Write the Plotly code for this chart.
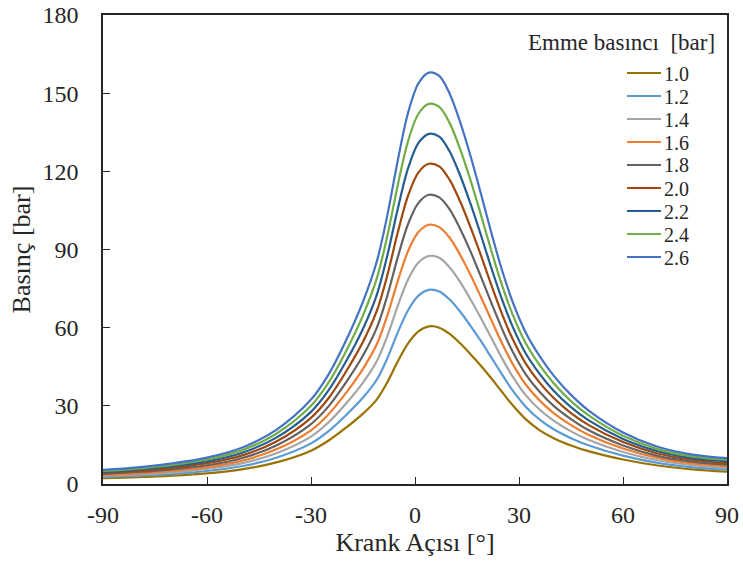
import plotly.graph_objects as go

crank_angle = [-90, -80, -70, -60, -50, -40, -30, -25, -20, -15, -11, -8, -5, -2, 1, 4, 7,
               10, 13, 16, 19, 22, 25, 28, 32, 36, 40, 45, 50, 60, 70, 80, 90]

intake_labels = ["1.0", "1.2", "1.4", "1.6", "1.8", "2.0", "2.2", "2.4", "2.6"]

p_10 = [2.2, 2.6, 3.2, 4.1, 5.6, 8.3, 12.8, 16.6, 21.5, 27.0, 32.5, 39.0, 47.0, 54.0, 58.6, 60.5, 60.0,
        57.6, 54.0, 49.8, 45.4, 40.6, 35.5, 30.5, 24.8, 20.6, 17.6, 14.8, 12.6, 9.4, 7.1, 5.6, 4.7]
p_12 = [2.7, 3.2, 3.9, 5.0, 6.8, 10.1, 15.6, 20.2, 26.3, 33.2, 40.1, 48.2, 58.1, 66.7, 72.3, 74.5, 73.9,
        70.8, 66.2, 60.7, 54.9, 48.6, 42.3, 36.2, 29.6, 24.7, 21.0, 17.6, 14.9, 10.9, 8.1, 6.4, 5.5]
p_14 = [3.1, 3.7, 4.5, 5.8, 7.9, 11.8, 18.2, 23.6, 30.7, 38.9, 47.2, 56.7, 68.3, 78.5, 85.0, 87.5, 86.8,
        83.1, 77.6, 70.9, 63.7, 56.1, 48.5, 41.6, 34.0, 28.5, 24.3, 20.2, 17.0, 12.3, 9.1, 7.2, 6.1]
p_16 = [3.5, 4.1, 5.1, 6.5, 8.9, 13.3, 20.6, 26.7, 34.8, 44.2, 53.7, 64.6, 77.8, 89.4, 96.7, 99.5, 98.6,
        94.5, 88.0, 80.3, 71.8, 63.0, 54.3, 46.5, 38.1, 32.0, 27.2, 22.6, 18.9, 13.6, 10.0, 7.9, 6.8]
p_18 = [3.9, 4.6, 5.6, 7.2, 9.9, 14.8, 23.0, 29.7, 38.8, 49.3, 60.0, 72.2, 86.9, 99.8, 107.9, 111.0, 110.0,
        105.4, 98.0, 89.3, 79.6, 69.6, 59.9, 51.2, 42.0, 35.3, 30.0, 24.9, 20.7, 14.8, 10.8, 8.6, 7.4]
p_20 = [4.3, 5.0, 6.2, 8.0, 10.9, 16.3, 25.4, 32.8, 42.9, 54.6, 66.5, 80.0, 96.4, 110.7, 119.6, 122.9, 121.9,
        116.7, 108.5, 98.6, 87.8, 76.4, 65.6, 56.1, 46.1, 38.8, 33.0, 27.2, 22.7, 16.1, 11.7, 9.3, 8.0]
p_22 = [4.6, 5.5, 6.8, 8.7, 11.9, 17.8, 27.7, 35.8, 46.8, 59.6, 72.7, 87.6, 105.4, 121.2, 130.9, 134.4, 133.3,
        127.6, 118.5, 107.6, 95.6, 83.0, 71.2, 60.9, 50.0, 42.2, 35.8, 29.5, 24.5, 17.3, 12.6, 9.9, 8.7]
p_24 = [5.0, 5.9, 7.3, 9.4, 12.9, 19.3, 30.0, 38.8, 50.7, 64.7, 79.0, 95.1, 114.5, 131.6, 142.1, 145.9, 144.7,
        138.5, 128.6, 116.6, 103.4, 89.6, 76.7, 65.6, 53.9, 45.5, 38.7, 31.8, 26.4, 18.5, 13.4, 10.6, 9.3]
p_26 = [5.4, 6.4, 7.9, 10.1, 13.9, 20.8, 32.4, 41.9, 54.8, 70.0, 85.5, 103.0, 124.0, 142.5, 153.8, 157.9, 156.6,
        149.8, 139.0, 126.0, 111.5, 96.5, 82.5, 70.5, 58.0, 49.0, 41.6, 34.2, 28.3, 19.8, 14.3, 11.3, 9.9]

series = [p_10, p_12, p_14, p_16, p_18, p_20, p_22, p_24, p_26]
colors = ["#997300", "#5B9BD5", "#A5A5A5", "#ED7D31", "#636363",
          "#9E480E", "#255E91", "#70AD47", "#4472C4"]

x_ticks = [-90, -60, -30, 0, 30, 60, 90]
y_ticks = [0, 30, 60, 90, 120, 150, 180]

FONT = "Liberation Serif"
TXT = "#262626"

fig = go.Figure()
for lab, ys, col in zip(intake_labels, series, colors):
    fig.add_trace(go.Scatter(
        x=crank_angle, y=ys, mode="lines", name=lab, showlegend=False,
        line=dict(color=col, width=2.2, shape="spline", smoothing=0.9),
    ))

axis_common = dict(
    showline=True, linecolor=TXT, linewidth=1.5, mirror=True,
    ticks="inside", ticklen=7, tickwidth=1.3, tickcolor=TXT,
    showgrid=False, zeroline=False,
    tickfont=dict(family=FONT, size=24, color=TXT),
)

fig.update_xaxes(
    range=[-90, 90], tickvals=x_ticks, ticktext=[str(v) for v in x_ticks],
    title=dict(text="Krank Açısı [°]", font=dict(family=FONT, size=26, color=TXT), standoff=6),
    ticklabelstandoff=8,
    **axis_common,
)
fig.update_yaxes(
    range=[0, 180], tickvals=y_ticks, ticktext=[str(v) for v in y_ticks],
    title=dict(text="Basınç [bar]", font=dict(family=FONT, size=26, color=TXT), standoff=4),
    ticklabelstandoff=18,
    **axis_common,
)

# legend drawn as text + short line samples (paper coordinates)
L, R, T, B = 103, 727, 15, 484
pw, ph = R - L, B - T
def px(xp):
    return (xp - L) / pw
def py(yp):
    return (B - yp) / ph

annotations = [dict(
    text="Emme basıncı  [bar]", xref="paper", yref="paper",
    x=px(717), y=py(42), xanchor="right", yanchor="middle", showarrow=False,
    font=dict(family=FONT, size=23, color=TXT),
)]
shapes = []
for i, (lab, col) in enumerate(zip(intake_labels, colors)):
    yc = 73 + 23 * i
    shapes.append(dict(type="line", xref="paper", yref="paper",
                       x0=px(627), x1=px(661), y0=py(yc), y1=py(yc),
                       line=dict(color=col, width=2.2)))
    annotations.append(dict(text=lab, xref="paper", yref="paper",
                            x=px(663), y=py(yc), xanchor="left", yanchor="middle",
                            height=19, borderpad=0, valign="middle",
                            showarrow=False, font=dict(family=FONT, size=20, color=TXT)))

fig.update_layout(
    width=743, height=565,
    margin=dict(l=L, r=743 - R, t=T, b=565 - B, autoexpand=False),
    paper_bgcolor="white", plot_bgcolor="white",
    showlegend=False,
    annotations=annotations,
    shapes=shapes,
)

fig.write_html("out.html")
